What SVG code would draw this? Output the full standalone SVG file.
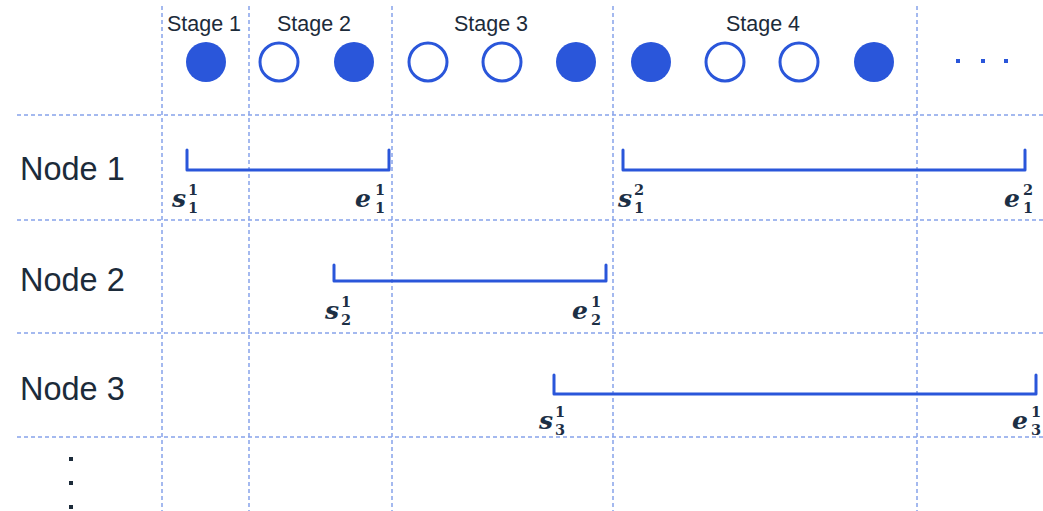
<svg xmlns="http://www.w3.org/2000/svg" width="1043" height="511" viewBox="0 0 1043 511">
<style>
.grid{stroke:#86a2ea;stroke-width:1.5;stroke-dasharray:4 3;fill:none}
.lbl{font-family:"Liberation Sans",Arial,sans-serif;fill:#1c2b3a}
.stage{font-size:21.5px;text-anchor:middle}
.node{font-size:32.5px}
.fill{fill:#2a56da}
.open{fill:#fff;stroke:#2a56da;stroke-width:3}
.br{fill:none;stroke:#2a56da;stroke-width:3;stroke-linejoin:round;stroke-linecap:round}
.m{font-family:"DejaVu Serif",serif;font-weight:bold;font-style:italic;font-size:25px;fill:#1c2f45}
.sc{font-family:"DejaVu Serif",serif;font-weight:bold;font-style:normal;font-size:14.5px;fill:#1c2f45}
.dot{fill:#2a56da}
.vdot{fill:#1c2b3a}
</style>
<rect width="1043" height="511" fill="#fff"/>
<g id="grid">
<line class="grid" x1="162" y1="6" x2="162" y2="511"/>
<line class="grid" x1="249" y1="6" x2="249" y2="511"/>
<line class="grid" x1="392" y1="6" x2="392" y2="511"/>
<line class="grid" x1="613" y1="6" x2="613" y2="511"/>
<line class="grid" x1="917" y1="6" x2="917" y2="511"/>
<line class="grid" x1="17" y1="115" x2="1043" y2="115"/>
<line class="grid" x1="17" y1="220" x2="1043" y2="220"/>
<line class="grid" x1="17" y1="333" x2="1043" y2="333"/>
<line class="grid" x1="17" y1="437" x2="1043" y2="437"/>
</g>
<g id="stages">
<text class="lbl stage" x="204" y="31">Stage 1</text>
<text class="lbl stage" x="314" y="31">Stage 2</text>
<text class="lbl stage" x="491" y="31">Stage 3</text>
<text class="lbl stage" x="763" y="31">Stage 4</text>
</g>
<g id="circles">
<circle class="fill" cx="206" cy="62" r="20"/>
<circle class="open" cx="279" cy="62" r="19"/>
<circle class="fill" cx="354" cy="62" r="20"/>
<circle class="open" cx="428" cy="62" r="19"/>
<circle class="open" cx="502" cy="62" r="19"/>
<circle class="fill" cx="576" cy="62" r="20"/>
<circle class="fill" cx="651" cy="62" r="20"/>
<circle class="open" cx="725" cy="62" r="19"/>
<circle class="open" cx="799" cy="62" r="19"/>
<circle class="fill" cx="874" cy="62" r="20"/>
<rect class="dot" x="956" y="59" width="4" height="4"/>
<rect class="dot" x="981" y="59" width="4" height="4"/>
<rect class="dot" x="1004" y="59" width="4" height="4"/>
</g>
<g id="node1">
<text class="lbl node" x="20" y="180">Node 1</text>
<path class="br" d="M187 150 V170 H389 V150"/>
<text class="m" x="172" y="207">s<tspan class="sc" x="188" y="195">1</tspan><tspan class="sc" x="188" y="213">1</tspan></text>
<text class="m" x="355" y="207">e<tspan class="sc" x="375" y="195">1</tspan><tspan class="sc" x="375" y="213">1</tspan></text>
<path class="br" d="M623 150 V170 H1025 V150"/>
<text class="m" x="618" y="207">s<tspan class="sc" x="634" y="195">2</tspan><tspan class="sc" x="634" y="213">1</tspan></text>
<text class="m" x="1004" y="207">e<tspan class="sc" x="1023" y="195">2</tspan><tspan class="sc" x="1023" y="213">1</tspan></text>
</g>
<g id="node2">
<text class="lbl node" x="20" y="291">Node 2</text>
<path class="br" d="M334 265 V281 H606 V265"/>
<text class="m" x="325" y="319">s<tspan class="sc" x="341" y="307">1</tspan><tspan class="sc" x="341" y="325">2</tspan></text>
<text class="m" x="572" y="319">e<tspan class="sc" x="591" y="307">1</tspan><tspan class="sc" x="591" y="325">2</tspan></text>
</g>
<g id="node3">
<text class="lbl node" x="20" y="400">Node 3</text>
<path class="br" d="M554 375 V394 H1036 V375"/>
<text class="m" x="539" y="429">s<tspan class="sc" x="555" y="417">1</tspan><tspan class="sc" x="555" y="435">3</tspan></text>
<text class="m" x="1012" y="429">e<tspan class="sc" x="1031" y="417">1</tspan><tspan class="sc" x="1031" y="435">3</tspan></text>
</g>
<g id="more">
<rect class="vdot" x="69" y="457" width="4" height="4"/>
<rect class="vdot" x="69" y="481" width="4" height="4"/>
<rect class="vdot" x="69" y="505" width="4" height="4"/>
</g>
</svg>
